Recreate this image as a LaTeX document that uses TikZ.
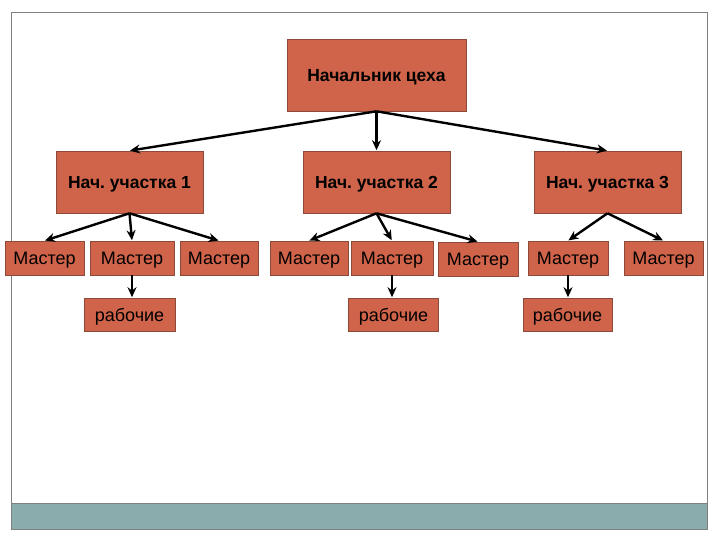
\documentclass[tikz,border=0pt]{standalone}
\usepackage{fontspec}
\setmainfont{Liberation Sans}
\frenchspacing
\usetikzlibrary{arrows.meta}
\definecolor{boxfill}{HTML}{D0644A}
\definecolor{boxline}{HTML}{8C4A3A}
\definecolor{band}{HTML}{8AACAC}
\definecolor{frame}{HTML}{808080}
\tikzset{
  box/.style={draw=boxline, line width=0.6pt, fill=boxfill, inner sep=0pt, text=black,
    font=\fontsize{18}{20}\selectfont, text height=13pt, text depth=0pt},
  bbox/.style={box, font=\fontsize{17.5}{20}\selectfont\bfseries, text height=12.5pt},
  conn/.style={line width=2.4pt, -{Stealth[length=10pt,width=9pt]}, shorten >=0.5pt}
}
\begin{document}
\begin{tikzpicture}[x=1pt,y=-1pt]
\useasboundingbox (0,0) rectangle (720,540);
\fill[band] (11,503) rectangle (707,529);
\draw[frame, line width=0.8pt] (11,12) rectangle (707,529);
\draw[frame, line width=0.6pt] (11,503) -- (707,503);
% top
\node[bbox, minimum width=179pt, minimum height=72pt] (top) at (376.5,75) {Начальник цеха};
% level 2
\node[bbox, minimum width=147pt, minimum height=62pt] (s1) at (129.5,182) {Нач. участка 1};
\node[bbox, minimum width=147pt, minimum height=62pt] (s2) at (376.5,182) {Нач. участка 2};
\node[bbox, minimum width=147pt, minimum height=62pt] (s3) at (607.5,182) {Нач. участка 3};
% masters
\node[box, minimum width=79pt, minimum height=34pt] (ma) at (44.5,258) {Мастер};
\node[box, minimum width=84pt, minimum height=34pt] (mb) at (132,258) {Мастер};
\node[box, minimum width=78pt, minimum height=34pt] (mc) at (219,258) {Мастер};
\node[box, minimum width=78pt, minimum height=34pt] (md) at (309,258) {Мастер};
\node[box, minimum width=82pt, minimum height=34pt] (me) at (392,258) {Мастер};
\node[box, minimum width=80pt, minimum height=34pt] (mf) at (478,259) {Мастер};
\node[box, minimum width=80pt, minimum height=34pt] (mg) at (568,258) {Мастер};
\node[box, minimum width=79pt, minimum height=34pt] (mh) at (663.5,258) {Мастер};
% workers
\node[box, minimum width=91pt, minimum height=33pt] (r1) at (129.5,314.5) {рабочие};
\node[box, minimum width=90pt, minimum height=33pt] (r2) at (393.5,314.5) {рабочие};
\node[box, minimum width=89pt, minimum height=33pt] (r3) at (567.5,314.5) {рабочие};
% connectors
\draw[conn] (top.south) -- (s1.north);
\draw[conn] (top.south) -- (s2.north);
\draw[conn] (top.south) -- (s3.north);
\draw[conn] (s1.south) -- (ma.north);
\draw[conn] (s1.south) -- (mb.north);
\draw[conn] (s1.south) -- (mc.north);
\draw[conn] (s2.south) -- (md.north);
\draw[conn] (s2.south) -- (me.north);
\draw[conn] (s2.south) -- (mf.north);
\draw[conn] (s3.south) -- (mg.north);
\draw[conn] (s3.south) -- (mh.north);
\draw[conn] (mb.south) -- (mb.south |- r1.north);
\draw[conn] (me.south) -- (me.south |- r2.north);
\draw[conn] (mg.south) -- (mg.south |- r3.north);
\end{tikzpicture}
\end{document}
